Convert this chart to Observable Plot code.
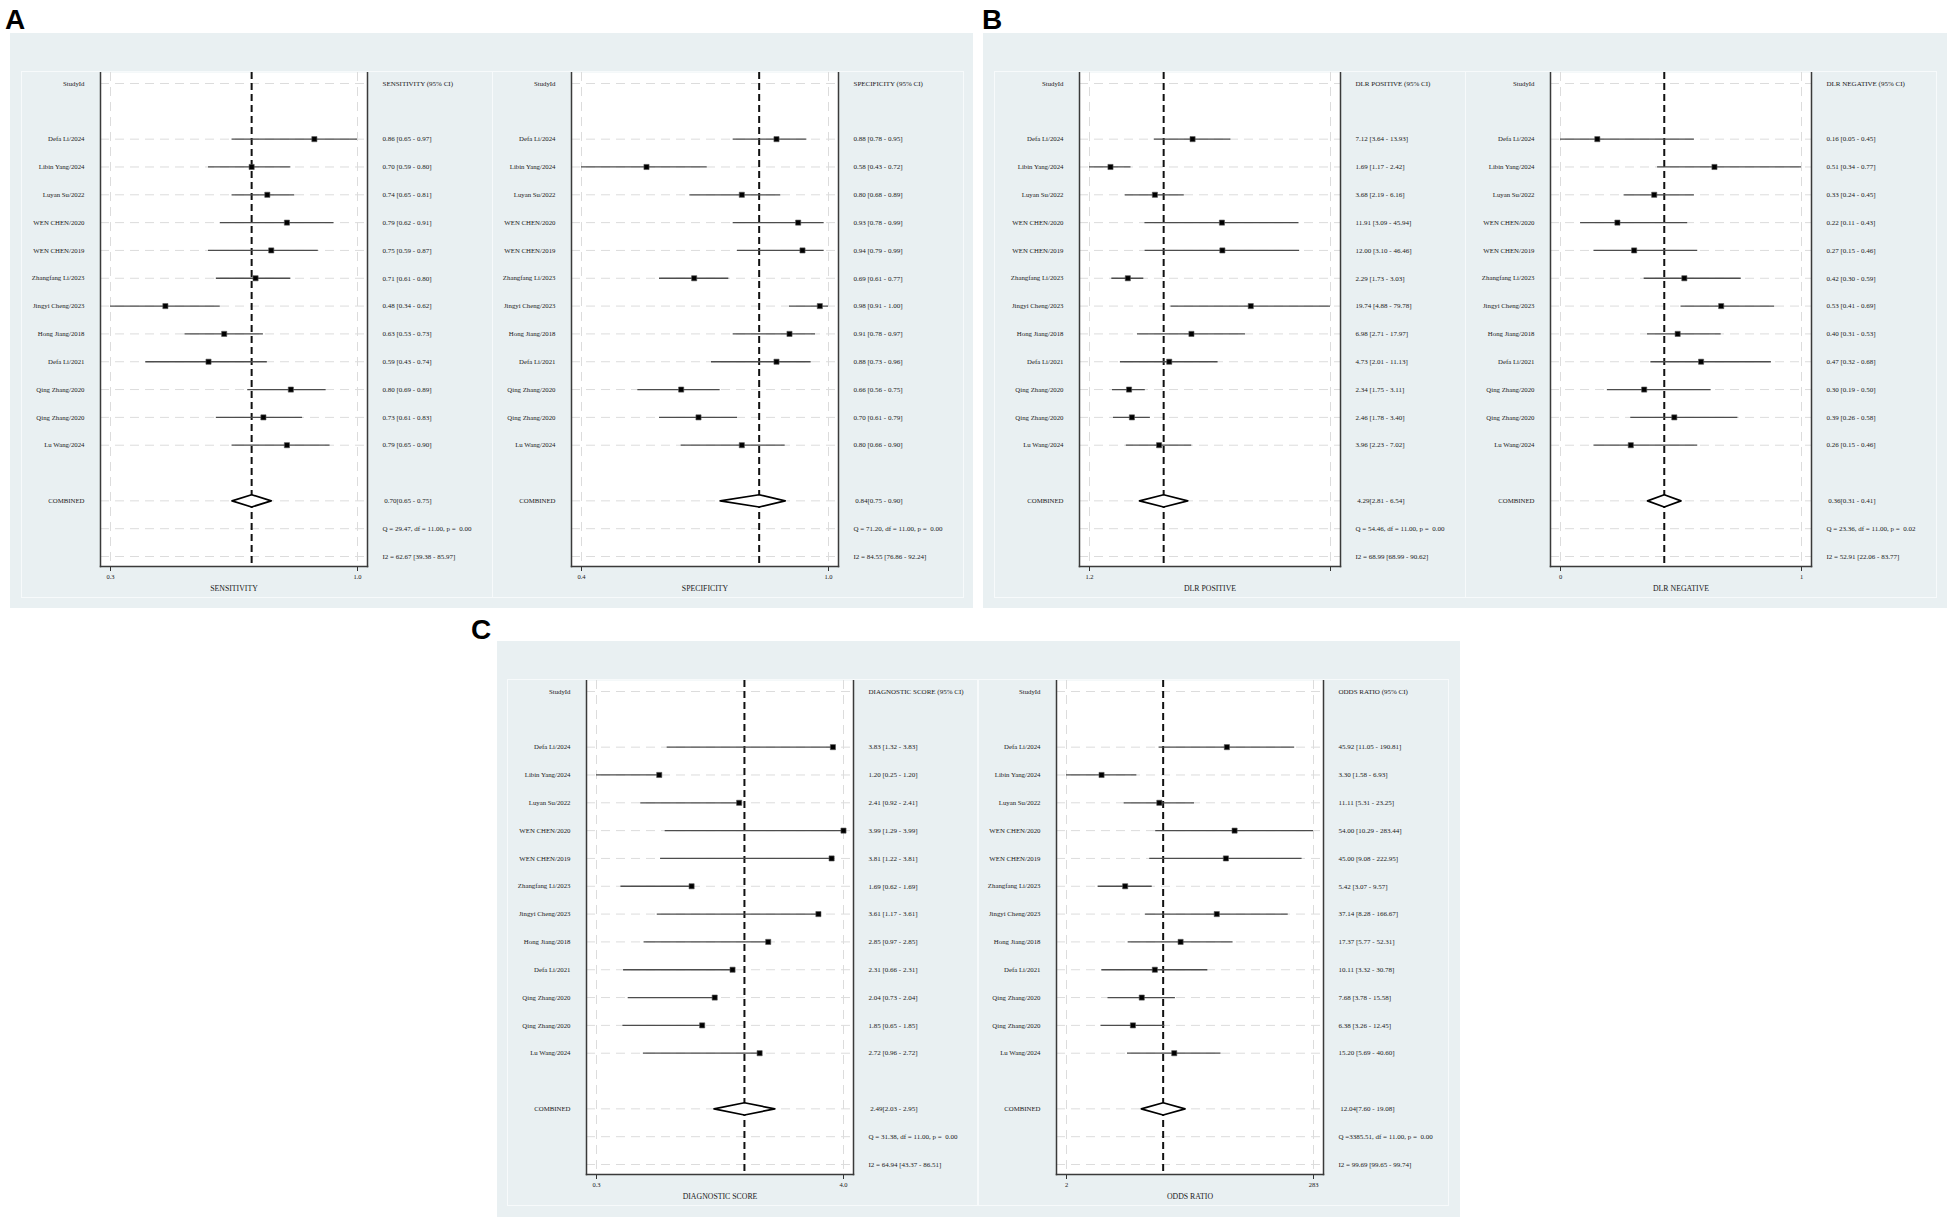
<!DOCTYPE html>
<html><head><meta charset="utf-8">
<script src="https://cdn.jsdelivr.net/npm/d3@7"></script>
<script src="https://cdn.jsdelivr.net/npm/@observablehq/plot@0.6"></script>
<style>
html,body{margin:0;padding:0;background:#fff;}
body{width:1953px;height:1223px;position:relative;overflow:hidden;font-family:"Liberation Serif","Times New Roman",serif;}
.panel{position:absolute;background:#e9f0f2;}
.sub{position:absolute;outline:1px solid #f7fafb;}
.sub svg{display:block;}
.tag{position:absolute;font:bold 28px "Liberation Sans",Arial,sans-serif;line-height:1;color:#000;}
</style></head><body>
<script>
// ---------- data ----------
const studies = ["Defa Li/2024","Libin Yang/2024","Luyan Su/2022","WEN CHEN/2020","WEN CHEN/2019","Zhangfang Li/2023","Jingyi Cheng/2023","Hong Jiang/2018","Defa Li/2021","Qing Zhang/2020","Qing Zhang/2020","Lu Wang/2024"];

const sensEst = [0.86,0.70,0.74,0.79,0.75,0.71,0.48,0.63,0.59,0.80,0.73,0.79];
const sensLo  = [0.65,0.59,0.65,0.62,0.59,0.61,0.34,0.53,0.43,0.69,0.61,0.65];
const sensHi  = [0.97,0.80,0.81,0.91,0.87,0.80,0.62,0.73,0.74,0.89,0.83,0.90];
const sensPooled = [0.70,0.65,0.75];
const sensQ = "Q = 29.47, df = 11.00, p =  0.00";
const sensI2 = "I2 = 62.67 [39.38 - 85.97]";
const sensTicks = ["0.3","1.0"];

const specEst = [0.88,0.58,0.80,0.93,0.94,0.69,0.98,0.91,0.88,0.66,0.70,0.80];
const specLo  = [0.78,0.43,0.68,0.78,0.79,0.61,0.91,0.78,0.73,0.56,0.61,0.66];
const specHi  = [0.95,0.72,0.89,0.99,0.99,0.77,1.00,0.97,0.96,0.75,0.79,0.90];
const specPooled = [0.84,0.75,0.90];
const specQ = "Q = 71.20, df = 11.00, p =  0.00";
const specI2 = "I2 = 84.55 [76.86 - 92.24]";
const specTicks = ["0.4","1.0"];

const plrEst = [7.12,1.69,3.68,11.91,12.00,2.29,19.74,6.98,4.73,2.34,2.46,3.96];
const plrLo  = [3.64,1.17,2.19,3.09,3.10,1.73,4.88,2.71,2.01,1.75,1.78,2.23];
const plrHi  = [13.93,2.42,6.16,45.94,46.46,3.03,79.78,17.97,11.13,3.11,3.40,7.02];
const plrPooled = [4.29,2.81,6.54];
const plrQ = "Q = 54.46, df = 11.00, p =  0.00";
const plrI2 = "I2 = 68.99 [68.99 - 90.62]";
const plrTicks = ["1.2","79.8"];

const nlrEst = [0.16,0.51,0.33,0.22,0.27,0.42,0.53,0.40,0.47,0.30,0.39,0.26];
const nlrLo  = [0.05,0.34,0.24,0.11,0.15,0.30,0.41,0.31,0.32,0.19,0.26,0.15];
const nlrHi  = [0.45,0.77,0.45,0.43,0.46,0.59,0.69,0.53,0.68,0.50,0.58,0.46];
const nlrPooled = [0.36,0.31,0.41];
const nlrQ = "Q = 23.36, df = 11.00, p =  0.02";
const nlrI2 = "I2 = 52.91 [22.06 - 83.77]";
const nlrTicks = ["0","1"];

const dsEst = [3.83,1.20,2.41,3.99,3.81,1.69,3.61,2.85,2.31,2.04,1.85,2.72];
const dsLo  = [1.32,0.25,0.92,1.29,1.22,0.62,1.17,0.97,0.66,0.73,0.65,0.96];
const dsHi  = [3.83,1.20,2.41,3.99,3.81,1.69,3.61,2.85,2.31,2.04,1.85,2.72];
const dsPooled = [2.49,2.03,2.95];
const dsQ = "Q = 31.38, df = 11.00, p =  0.00";
const dsI2 = "I2 = 64.94 [43.37 - 86.51]";
const dsTicks = ["0.3","4.0"];

const orEst = [45.92,3.30,11.11,54.00,45.00,5.42,37.14,17.37,10.11,7.68,6.38,15.20];
const orLo  = [11.05,1.58,5.31,10.29,9.08,3.07,8.28,5.77,3.32,3.78,3.26,5.69];
const orHi  = [190.81,6.93,23.25,283.44,222.95,9.57,166.67,52.31,30.78,15.58,12.45,40.60];
const orPooled = [12.04,7.60,19.08];
const orQ = "Q =3385.51, df = 11.00, p =  0.00";
const orI2 = "I2 = 99.69 [99.65 - 99.74]";
const orTicks = ["2","283"];

const measures = {
  sens: {title:"SENSITIVITY", header:"SENSITIVITY (95% CI)", type:"linear", est:sensEst, lo:sensLo, hi:sensHi, pooled:sensPooled, q:sensQ, i2:sensI2, ticks:sensTicks},
  spec: {title:"SPECIFICITY", header:"SPECIFICITY (95% CI)", type:"linear", est:specEst, lo:specLo, hi:specHi, pooled:specPooled, q:specQ, i2:specI2, ticks:specTicks},
  plr:  {title:"DLR POSITIVE", header:"DLR POSITIVE (95% CI)", type:"log", est:plrEst, lo:plrLo, hi:plrHi, pooled:plrPooled, q:plrQ, i2:plrI2, ticks:plrTicks},
  nlr:  {title:"DLR NEGATIVE", header:"DLR NEGATIVE (95% CI)", type:"linear", est:nlrEst, lo:nlrLo, hi:nlrHi, pooled:nlrPooled, q:nlrQ, i2:nlrI2, ticks:nlrTicks},
  ds:   {title:"DIAGNOSTIC SCORE", header:"DIAGNOSTIC SCORE (95% CI)", type:"linear", est:dsEst, lo:dsLo, hi:dsHi, pooled:dsPooled, q:dsQ, i2:dsI2, ticks:dsTicks},
  or:   {title:"ODDS RATIO", header:"ODDS RATIO (95% CI)", type:"log", est:orEst, lo:orLo, hi:orHi, pooled:orPooled, q:orQ, i2:orI2, ticks:orTicks}
};

// ---------- layout ----------
const panels = [
  {tag:"A", tagX:5, tagY:6, left:10, top:33, width:963, height:575, subs:[{m:"sens", x:12, y:39, ml:78}, {m:"spec", x:483, y:39, ml:78}]},
  {tag:"B", tagX:982, tagY:6, left:983, top:33, width:964, height:575, subs:[{m:"plr", x:12, y:39, ml:84}, {m:"nlr", x:483, y:39, ml:84}]},
  {tag:"C", tagX:471, tagY:616, left:497, top:641, width:963, height:576, subs:[{m:"ds", x:11, y:39, ml:78}, {m:"or", x:481, y:39, ml:78}]}
];

const f2 = d3.format(".2f");

function forest(m, ml) {
  const W = 470, H = 525;
  const studyRows = studies.map((s, i) => ({name: s, row: i + 2, est: m.est[i], lo: m.lo[i], hi: m.hi[i]}));
  const xlo = d3.min(m.lo), xhi = d3.max(m.hi);
  const [pe, pl, ph] = m.pooled;
  const rowComb = 15, rowQ = 16, rowI2 = 17;
  const leftText = [{row: 0, t: "StudyId"}, ...studyRows.map(d => ({row: d.row, t: d.name})), {row: rowComb, t: "COMBINED"}];
  const rightText = [
    {row: 0, t: m.header},
    ...studyRows.map(d => ({row: d.row, t: `${f2(d.est)} [${f2(d.lo)} - ${f2(d.hi)}]`})),
    {row: rowComb, t: ` ${f2(pe)}[${f2(pl)} - ${f2(ph)}]`},
    {row: rowQ, t: m.q},
    {row: rowI2, t: m.i2}
  ];
  const gridRows = [0, ...studyRows.map(d => d.row), rowComb, rowQ, rowI2];
  const dh = 0.22;
  const diamond = [{x: pl, y: rowComb}, {x: pe, y: rowComb - dh}, {x: ph, y: rowComb}, {x: pe, y: rowComb + dh}, {x: pl, y: rowComb}];
  const txt = {fontFamily: "Liberation Serif, Times New Roman, serif", fill: "#1a1a1a"};
  return Plot.plot({
    width: W, height: H,
    marginLeft: ml, marginRight: 125, marginTop: 0, marginBottom: 31,
    style: {background: "transparent", fontFamily: "Liberation Serif, Times New Roman, serif", overflow: "visible"},
    x: {type: m.type, domain: [xlo, xhi], inset: 10},
    y: {domain: [0, 17], reverse: true, insetTop: 11, insetBottom: 10, axis: null},
    marks: [
      Plot.frame({fill: "white", stroke: null}),
      Plot.ruleY(gridRows, {y: d => d, stroke: "#dcdcdc", strokeWidth: 1, strokeDasharray: "9,6"}),
      Plot.ruleX([xlo, xhi], {x: d => d, stroke: "#dcdcdc", strokeWidth: 1, strokeDasharray: "9,6"}),
      Plot.ruleX([pe], {x: d => d, stroke: "#111", strokeWidth: 2, strokeDasharray: "7,4"}),
      Plot.ruleY(studyRows, {y: "row", x1: "lo", x2: "hi", stroke: "#4d4d4d", strokeWidth: 1.3}),
      Plot.dot(studyRows, {x: "est", y: "row", symbol: "square", fill: "#000", stroke: "#555", strokeWidth: 0.6, r: 2.9}),
      Plot.line(diamond, {x: "x", y: "y", fill: "white", stroke: "#000", strokeWidth: 1.7}),
      Plot.text(leftText, {y: "row", text: "t", frameAnchor: "left", dx: -16, textAnchor: "end", fontSize: 6.8, ...txt}),
      Plot.text(rightText, {y: "row", text: "t", frameAnchor: "right", dx: 15, textAnchor: "start", fontSize: 7, ...txt}),
      Plot.axisX({ticks: [xlo, xhi], tickFormat: d => (d === xlo ? m.ticks[0] : m.ticks[1]), tickSize: 5, tickPadding: 3, fontSize: 6.5, label: null, stroke: "#333", fill: "#1a1a1a"}),
      Plot.text([m.title], {text: d => d, frameAnchor: "bottom", dy: 24, fontSize: 7.8, ...txt}),
      Plot.frame({anchor: "left", stroke: "#3a3a3a", strokeWidth: 1.5}),
      Plot.frame({anchor: "right", stroke: "#3a3a3a", strokeWidth: 1.5}),
      Plot.frame({anchor: "bottom", stroke: "#3a3a3a", strokeWidth: 1.5})
    ]
  });
}

for (const p of panels) {
  const tag = document.createElement("div");
  tag.className = "tag";
  tag.style.left = p.tagX + "px"; tag.style.top = p.tagY + "px";
  tag.textContent = p.tag;
  document.body.appendChild(tag);
  const div = document.createElement("div");
  div.className = "panel";
  Object.assign(div.style, {left: p.left + "px", top: p.top + "px", width: p.width + "px", height: p.height + "px"});
  for (const s of p.subs) {
    const sub = document.createElement("div");
    sub.className = "sub";
    Object.assign(sub.style, {left: s.x + "px", top: s.y + "px", width: "470px", height: "525px"});
    sub.appendChild(forest(measures[s.m], s.ml));
    div.appendChild(sub);
  }
  document.body.appendChild(div);
}
</script>
</body></html>
